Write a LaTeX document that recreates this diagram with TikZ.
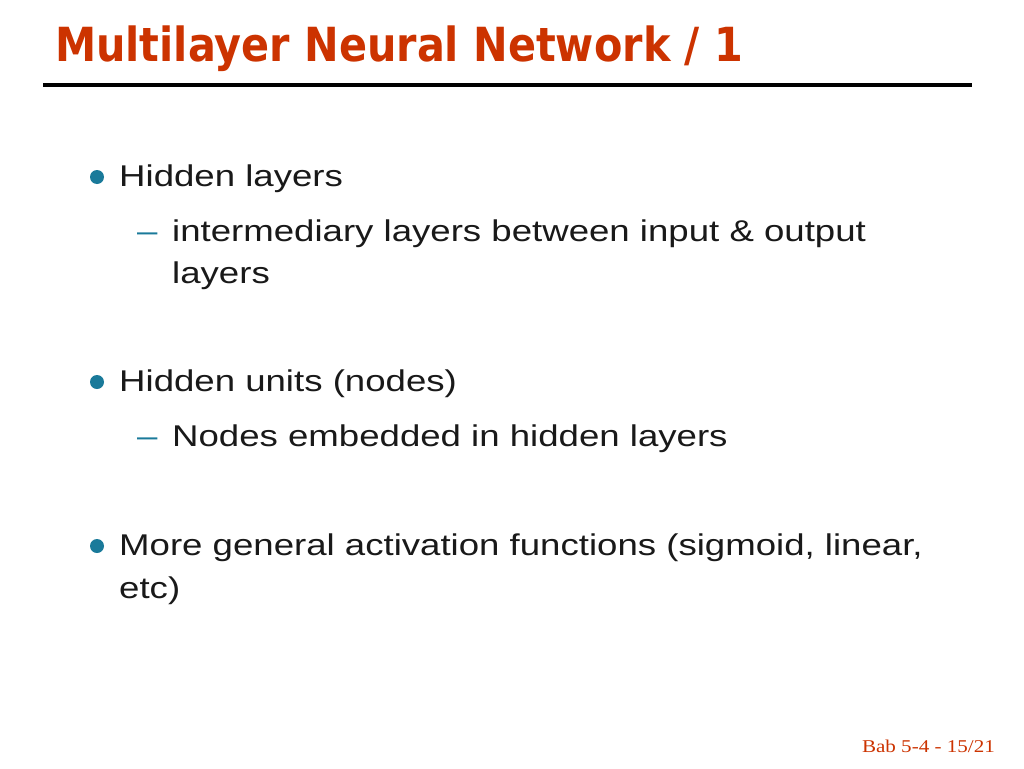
\documentclass[tikz,border=0pt]{standalone}
\usepackage{fontspec}
\setmainfont[FakeStretch=1.22]{Liberation Sans}
\newfontfamily\titlefont[FakeStretch=0.88]{DejaVu Sans}
\newfontfamily\footfont[FakeStretch=1.17]{Liberation Serif}
\definecolor{slidered}{RGB}{204,51,0}
\definecolor{bulletblue}{RGB}{26,122,154}
\tikzset{
  titletext/.style={anchor=base west, inner sep=0pt, text=slidered,
    font=\titlefont\bfseries\fontsize{47}{50}\selectfont},
  itemtext/.style={anchor=base west, inner sep=0pt, text=black!90,
    font=\fontsize{30}{36}\selectfont},
  bulletdot/.style={circle, fill=bulletblue, minimum size=14pt, inner sep=0pt},
  dashmark/.style={anchor=base west, inner sep=0pt, text=bulletblue,
    font=\fontsize{30}{36}\selectfont},
  foottext/.style={anchor=base east, inner sep=0pt, text=slidered,
    font=\footfont\fontsize{18}{20}\selectfont}
}
\begin{document}
\begin{tikzpicture}[x=1pt, y=-1pt]
    \useasboundingbox (0, 0) rectangle (1024, 768);
    \fill [white] (0, 0) rectangle (1024, 768);
    % title
    \node [titletext] (title) at (55, 62) {Multilayer Neural Network / 1};
    \draw [line width=4pt] (43, 85) -- (972, 85);
    % first item
    \node [bulletdot] (b1) at (97, 177) {};
    \node [itemtext] (hl) at (119, 186) {Hidden layers};
    \node [dashmark] (d1) at (137, 241) {\textendash};
    \node [itemtext] (hl1) at (172, 241) {intermediary layers between input \& output};
    \node [itemtext] (hl2) at (172, 283) {layers};
    % second item
    \node [bulletdot] (b2) at (97, 382) {};
    \node [itemtext] (hu) at (119, 391) {Hidden units (nodes)};
    \node [dashmark] (d2) at (137, 446) {\textendash};
    \node [itemtext] (hu1) at (172, 446) {Nodes embedded in hidden layers};
    % third item
    \node [bulletdot] (b3) at (97, 546) {};
    \node [itemtext] (ga) at (119, 555) {More general activation functions (sigmoid, linear,};
    \node [itemtext] (ga1) at (119, 598) {etc)};
    % footer
    \node [foottext] (foot) at (995, 752) {Bab 5-4 - 15/21};
\end{tikzpicture}
\end{document}
